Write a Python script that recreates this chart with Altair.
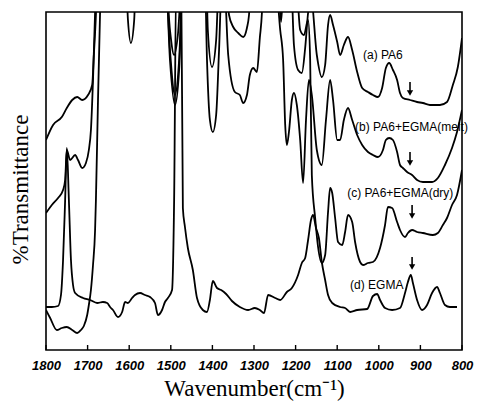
import altair as alt
import pandas as pd

# ---- spectra (wavenumber cm-1, transmittance in arbitrary units) ----
a_wn = [1800,1783,1762,1750,1737,1725,1713,1699,1689,1685,1680,1677,1608,1603,1596,1588,1584,1512,1502,1492,
        1483,1473,1415,1411,1401,1391,1384,1367,1360,1350,1338,1326,1317,1312,1307,1242,1235,1228,1211,1204,
        1194,1185,1177,1170,1163,1149,1137,1129,1122,1117,1110,1100,1093,1084,1074,1064,1052,1040,1026,1014,
        1002,992,983,975,966,956,949,942,925,908,894,877,853,836,822,810,800]
a_T = [210,225,233,242,250,253,250,255,265,295,335,370,370,330,307,330,370,370,320,295,
       315,370,370,320,283,310,370,370,335,323,317,313,322,335,370,370,328,370,370,305,
       280,277,302,337,352,295,273,285,325,335,325,308,295,305,313,300,278,262,258,255,
       253,262,282,287,280,270,257,252,250,248,247,245,245,248,265,283,312]

b_wn = [1800,1786,1771,1759,1754,1750,1742,1730,1723,1713,1704,1697,1692,1687,1682,1680,1512,1502,1490,1480,
        1471,1418,1413,1406,1399,1391,1384,1377,1372,1362,1346,1334,1326,1317,1310,1302,1293,1286,1281,1278,
        1249,1237,1230,1225,1221,1216,1209,1204,1197,1189,1182,1175,1168,1161,1149,1137,1127,1117,1110,1100,
        1093,1084,1074,1064,1052,1040,1026,1014,1002,990,983,975,966,956,949,942,932,920,908,894,
        872,858,841,824,812,800]
b_T = [137,145,152,160,170,200,190,195,190,182,187,200,220,270,338,370,370,300,255,290,
       370,370,290,230,218,235,300,370,370,295,258,255,247,255,275,282,278,312,337,370,
       370,320,290,225,205,218,250,257,245,210,167,230,270,255,200,185,230,270,250,210,
       210,230,242,230,215,205,198,195,193,200,210,212,210,198,185,182,178,175,170,168,
       168,172,185,202,218,240]

c_wn = [1800,1790,1774,1762,1750,1737,1725,1716,1709,1701,1697,1692,1687,1682,1680,1675,1670,1668,1512,1502,
        1490,1480,1471,1199,1189,1180,1170,1165,1161,1153,1146,1137,1129,1122,1117,1112,1105,1098,1088,1081,
        1074,1064,1057,1045,1038,1026,1014,997,985,978,968,956,949,937,930,920,908,894,870,858,
        846,836,824,812,800]
c_T = [40,32,20,22,23,20,17,20,24,35,45,60,85,120,150,250,338,370,370,290,
       245,280,370,370,320,315,330,290,175,132,103,87,95,138,162,157,132,108,105,118,
       135,128,108,88,85,87,88,102,125,143,142,128,120,113,117,120,118,117,115,117,
       125,132,145,155,180]

d_wn = [1800,1786,1771,1764,1759,1754,1750,1745,1740,1735,1730,1711,1694,1677,1663,1653,1646,1639,1627,1617,
        1610,1603,1593,1586,1574,1562,1550,1538,1531,1521,1514,1507,1497,1492,1487,1475,1471,1466,1459,1447,
        1437,1423,1413,1406,1399,1389,1379,1367,1353,1334,1314,1298,1286,1276,1266,1249,1237,1221,1209,1194,
        1185,1177,1170,1163,1158,1151,1144,1137,1129,1122,1112,1093,1081,1069,1052,1028,1014,1004,997,985,
        968,949,937,930,923,918,908,896,884,872,860,853,841,829,812]
d_T = [43,43,44,55,90,150,202,150,90,65,57,52,50,47,48,47,43,40,33,38,
       48,47,52,55,57,55,53,47,35,40,48,52,60,150,370,370,142,123,102,80,
       52,40,38,50,69,62,60,56,49,43,40,42,40,37,55,52,50,58,62,75,
       87,92,110,130,135,122,112,88,70,55,47,43,42,38,40,41,54,56,50,42,
       40,42,57,68,75,67,50,40,45,57,63,57,45,43,43]

# ---- axis ticks ----
tick_wn = [1800, 1700, 1600, 1500, 1400, 1300, 1200, 1100, 1000, 900, 800]

# ---- annotations ----
label_text = ["(a) PA6", "(b) PA6+EGMA(melt)", "(c) PA6+EGMA(dry)", "(d) EGMA"]
label_wn = [1038, 1057, 1076, 1069]
label_T = [295, 223, 157, 65]

arrow_wn = [925, 925, 920, 920]
arrow_top = [268, 198, 145, 93]
arrow_bot = [254, 184, 131, 80]

rows = []
for name, wn, T in [("a", a_wn, a_T), ("b", b_wn, b_T), ("c", c_wn, c_T), ("d", d_wn, d_T)]:
    for i, (w, t) in enumerate(zip(wn, T)):
        rows.append({"series": name, "wn": w, "T": t, "i": i})
df = pd.DataFrame(rows)

ticks_df = pd.DataFrame({"wn": tick_wn, "T": [0] * len(tick_wn), "y1": [5] * len(tick_wn)})
labels_df = pd.DataFrame({"text": label_text, "wn": label_wn, "T": label_T})
arrows_df = pd.DataFrame({"wn": arrow_wn, "T": arrow_top,
                          "shaft": [b + 4 for b in arrow_bot]})
heads_df = pd.DataFrame({"wn": arrow_wn, "T": [b + 3 for b in arrow_bot]})

xs = alt.Scale(domain=[800, 1800], reverse=True, nice=False, zero=False)
ys = alt.Scale(domain=[0, 338], nice=False, zero=False)

x_axis = alt.Axis(
    values=tick_wn, format="d", labelFont="Liberation Sans", labelFontSize=13,
    labelFontWeight="bold", labelFontStyle="italic", labelColor="black",
    labelPadding=9, tickSize=0, domain=False, grid=False, labelFlush=False,
    title="Wavenumber(cm\u207b\u00b9)", titleFont="Liberation Serif", titleFontSize=23,
    titleFontWeight="normal", titleColor="black", titlePadding=5)
y_axis = alt.Axis(
    labels=False, ticks=False, domain=False, grid=False,
    title="%Transmittance", titleFont="Liberation Serif", titleFontSize=23,
    titleFontWeight="normal", titleColor="black", titlePadding=14, titleY=177)

X = alt.X("wn:Q", scale=xs, axis=x_axis, title="Wavenumber(cm\u207b\u00b9)")
Y = alt.Y("T:Q", scale=ys, axis=y_axis, title="%Transmittance")

lines = alt.Chart(df).mark_line(
    clip=True, color="black", strokeWidth=1.8, interpolate="monotone"
).encode(x=X, y=Y, detail="series:N", order="i:Q")

tick_rules = alt.Chart(ticks_df).mark_rule(color="black", strokeWidth=1.4).encode(
    x=X, y=Y, y2="y1:Q")

arrow_shaft = alt.Chart(arrows_df).mark_rule(color="black", strokeWidth=1.6).encode(
    x=X, y=Y, y2="shaft:Q")
arrow_head = alt.Chart(heads_df).mark_point(
    shape="triangle-down", filled=True, color="black", size=40, opacity=1
).encode(x=X, y=Y)

labels = alt.Chart(labels_df).mark_text(
    align="left", baseline="middle", font="Liberation Sans", fontSize=12, color="black"
).encode(x=X, y=Y, text="text:N")

chart = alt.layer(lines, tick_rules, arrow_shaft, arrow_head, labels).properties(
    width=416, height=338,
    autosize=alt.AutoSizeParams(type="none"),
    padding={"left": 46, "top": 12, "right": 16, "bottom": 53},
    background="white",
).configure_view(stroke="black", strokeWidth=1.6)

chart.save("out.html", embed_options={"renderer": "svg", "actions": False})
